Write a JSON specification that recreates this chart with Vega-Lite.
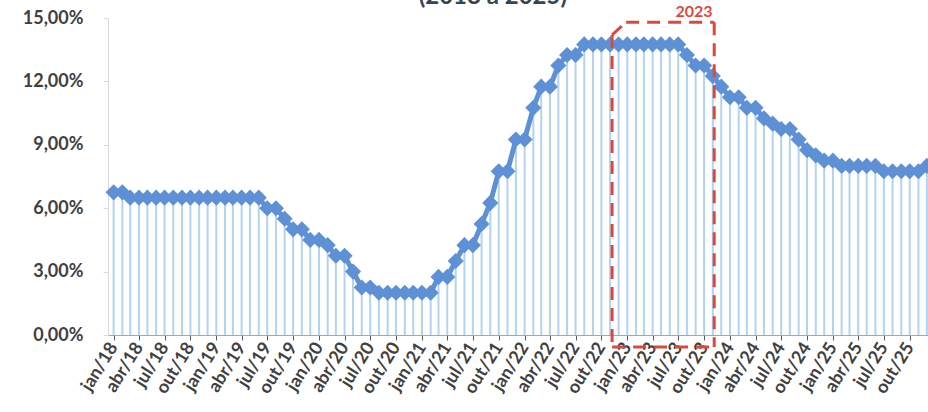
{
  "$schema": "https://vega.github.io/schema/vega-lite/v6.json",
  "width": 820,
  "height": 317,
  "autosize": {"type": "none"},
  "padding": {"left": 108, "top": 18, "right": 0, "bottom": 77},
  "background": "white",
  "config": {"view": {"stroke": null}, "font": "Lato"},
  "datasets": {
    "selic": [
      {"d": "2018-01-01", "v": 6.75}, {"d": "2018-02-01", "v": 6.75}, {"d": "2018-03-01", "v": 6.5}, {"d": "2018-04-01", "v": 6.5},
      {"d": "2018-05-01", "v": 6.5}, {"d": "2018-06-01", "v": 6.5}, {"d": "2018-07-01", "v": 6.5}, {"d": "2018-08-01", "v": 6.5},
      {"d": "2018-09-01", "v": 6.5}, {"d": "2018-10-01", "v": 6.5}, {"d": "2018-11-01", "v": 6.5}, {"d": "2018-12-01", "v": 6.5},
      {"d": "2019-01-01", "v": 6.5}, {"d": "2019-02-01", "v": 6.5}, {"d": "2019-03-01", "v": 6.5}, {"d": "2019-04-01", "v": 6.5},
      {"d": "2019-05-01", "v": 6.5}, {"d": "2019-06-01", "v": 6.5}, {"d": "2019-07-01", "v": 6.0}, {"d": "2019-08-01", "v": 6.0},
      {"d": "2019-09-01", "v": 5.5}, {"d": "2019-10-01", "v": 5.0}, {"d": "2019-11-01", "v": 5.0}, {"d": "2019-12-01", "v": 4.5},
      {"d": "2020-01-01", "v": 4.5}, {"d": "2020-02-01", "v": 4.25}, {"d": "2020-03-01", "v": 3.75}, {"d": "2020-04-01", "v": 3.75},
      {"d": "2020-05-01", "v": 3.0}, {"d": "2020-06-01", "v": 2.25}, {"d": "2020-07-01", "v": 2.25}, {"d": "2020-08-01", "v": 2.0},
      {"d": "2020-09-01", "v": 2.0}, {"d": "2020-10-01", "v": 2.0}, {"d": "2020-11-01", "v": 2.0}, {"d": "2020-12-01", "v": 2.0},
      {"d": "2021-01-01", "v": 2.0}, {"d": "2021-02-01", "v": 2.0}, {"d": "2021-03-01", "v": 2.75}, {"d": "2021-04-01", "v": 2.75},
      {"d": "2021-05-01", "v": 3.5}, {"d": "2021-06-01", "v": 4.25}, {"d": "2021-07-01", "v": 4.25}, {"d": "2021-08-01", "v": 5.25},
      {"d": "2021-09-01", "v": 6.25}, {"d": "2021-10-01", "v": 7.75}, {"d": "2021-11-01", "v": 7.75}, {"d": "2021-12-01", "v": 9.25},
      {"d": "2022-01-01", "v": 9.25}, {"d": "2022-02-01", "v": 10.75}, {"d": "2022-03-01", "v": 11.75}, {"d": "2022-04-01", "v": 11.75},
      {"d": "2022-05-01", "v": 12.75}, {"d": "2022-06-01", "v": 13.25}, {"d": "2022-07-01", "v": 13.25}, {"d": "2022-08-01", "v": 13.75},
      {"d": "2022-09-01", "v": 13.75}, {"d": "2022-10-01", "v": 13.75}, {"d": "2022-11-01", "v": 13.75}, {"d": "2022-12-01", "v": 13.75},
      {"d": "2023-01-01", "v": 13.75}, {"d": "2023-02-01", "v": 13.75}, {"d": "2023-03-01", "v": 13.75}, {"d": "2023-04-01", "v": 13.75},
      {"d": "2023-05-01", "v": 13.75}, {"d": "2023-06-01", "v": 13.75}, {"d": "2023-07-01", "v": 13.75}, {"d": "2023-08-01", "v": 13.25},
      {"d": "2023-09-01", "v": 12.75}, {"d": "2023-10-01", "v": 12.75}, {"d": "2023-11-01", "v": 12.25}, {"d": "2023-12-01", "v": 11.75},
      {"d": "2024-01-01", "v": 11.25}, {"d": "2024-02-01", "v": 11.25}, {"d": "2024-03-01", "v": 10.75}, {"d": "2024-04-01", "v": 10.75},
      {"d": "2024-05-01", "v": 10.25}, {"d": "2024-06-01", "v": 10.0}, {"d": "2024-07-01", "v": 9.75}, {"d": "2024-08-01", "v": 9.75},
      {"d": "2024-09-01", "v": 9.25}, {"d": "2024-10-01", "v": 8.75}, {"d": "2024-11-01", "v": 8.5}, {"d": "2024-12-01", "v": 8.25},
      {"d": "2025-01-01", "v": 8.25}, {"d": "2025-02-01", "v": 8.0}, {"d": "2025-03-01", "v": 8.0}, {"d": "2025-04-01", "v": 8.0},
      {"d": "2025-05-01", "v": 8.0}, {"d": "2025-06-01", "v": 8.0}, {"d": "2025-07-01", "v": 7.75}, {"d": "2025-08-01", "v": 7.75},
      {"d": "2025-09-01", "v": 7.75}, {"d": "2025-10-01", "v": 7.75}, {"d": "2025-11-01", "v": 7.75}, {"d": "2025-12-01", "v": 8.0}
    ],
    "box": [
      {"d": "2022-11-08", "v": 14.2, "d2": "2022-11-08", "v2": -0.57},
      {"d": "2022-11-08", "v": 14.2, "d2": "2022-12-28", "v2": 14.8},
      {"d": "2022-12-28", "v": 14.8, "d2": "2023-11-06", "v2": 14.8},
      {"d": "2023-11-06", "v": 14.8, "d2": "2023-11-06", "v2": -0.57},
      {"d": "2022-11-08", "v": -0.57, "d2": "2023-11-06", "v2": -0.57}
    ]
  },
  "layer": [
    {
      "data": {"name": "selic"},
      "mark": {"type": "rule", "color": "#b3d3ee", "strokeWidth": 2},
      "encoding": {
        "x": {
          "field": "d", "type": "temporal", "title": null,
          "scale": {"type": "utc", "domain": [{"year": 2017, "month": 12, "date": 12, "utc": true}, {"year": 2025, "month": 12, "date": 5, "utc": true}]},
          "axis": {
            "tickCount": {"interval": "month", "step": 3},
            "labelExpr": "['jan','fev','mar','abr','mai','jun','jul','ago','set','out','nov','dez'][utcmonth(datum.value)] + '/' + utcFormat(datum.value, '%y')",
            "labelAngle": -58, "labelFontSize": 18, "labelFontWeight": "bold", "labelColor": "#404040",
            "labelPadding": 4, "labelOverlap": false, "labelFlush": false,
            "domainColor": "#a6a6a6", "domainWidth": 1, "tickColor": "#595959", "tickSize": 5,
            "grid": false
          }
        },
        "y": {
          "field": "v", "type": "quantitative", "title": null,
          "scale": {"domain": [0, 15], "nice": false, "zero": true},
          "axis": {
            "values": [0, 3, 6, 9, 12, 15],
            "labelExpr": "replace(format(datum.value, '.2f'), '.', ',') + '%'",
            "labelFontSize": 18, "labelFontWeight": "bold", "labelColor": "#404040",
            "labelPadding": 20, "tickSize": 5, "tickColor": "#d9d9d9",
            "domainColor": "#d9d9d9", "grid": false
          }
        },
        "y2": {"datum": 0}
      }
    },
    {
      "data": {"name": "selic"},
      "mark": {"type": "line", "color": "#5e90d6", "strokeWidth": 5},
      "encoding": {
        "x": {"field": "d", "type": "temporal", "title": null},
        "y": {"field": "v", "type": "quantitative", "title": null}
      }
    },
    {
      "data": {"name": "selic"},
      "mark": {"type": "point", "shape": "diamond", "filled": true, "size": 260, "color": "#5e90d6", "opacity": 1},
      "encoding": {
        "x": {"field": "d", "type": "temporal", "title": null},
        "y": {"field": "v", "type": "quantitative", "title": null}
      }
    },
    {
      "data": {"name": "box"},
      "mark": {"type": "rule", "color": "#d94a3d", "strokeWidth": 3, "strokeDash": [13, 8]},
      "encoding": {
        "x": {"field": "d", "type": "temporal", "title": null},
        "x2": {"field": "d2"},
        "y": {"field": "v", "type": "quantitative", "title": null},
        "y2": {"field": "v2"}
      }
    },
    {
      "data": {"values": [{"d": "2023-08-26", "v": 15.28, "t": "2023"}]},
      "mark": {"type": "text", "color": "#d94a3d", "fontSize": 16, "fontWeight": "bold", "baseline": "middle", "align": "center"},
      "encoding": {
        "x": {"field": "d", "type": "temporal", "title": null},
        "y": {"field": "v", "type": "quantitative", "title": null},
        "text": {"field": "t"}
      }
    },
    {
      "data": {"values": [{"d": "2021-09-10", "v": 15.66, "t": "(2018 a 2025)"}]},
      "mark": {"type": "text", "color": "#36454f", "fontSize": 24, "fontWeight": "bold", "baseline": "alphabetic", "align": "center"},
      "encoding": {
        "x": {"field": "d", "type": "temporal", "title": null},
        "y": {"field": "v", "type": "quantitative", "title": null},
        "text": {"field": "t"}
      }
    }
  ]
}
